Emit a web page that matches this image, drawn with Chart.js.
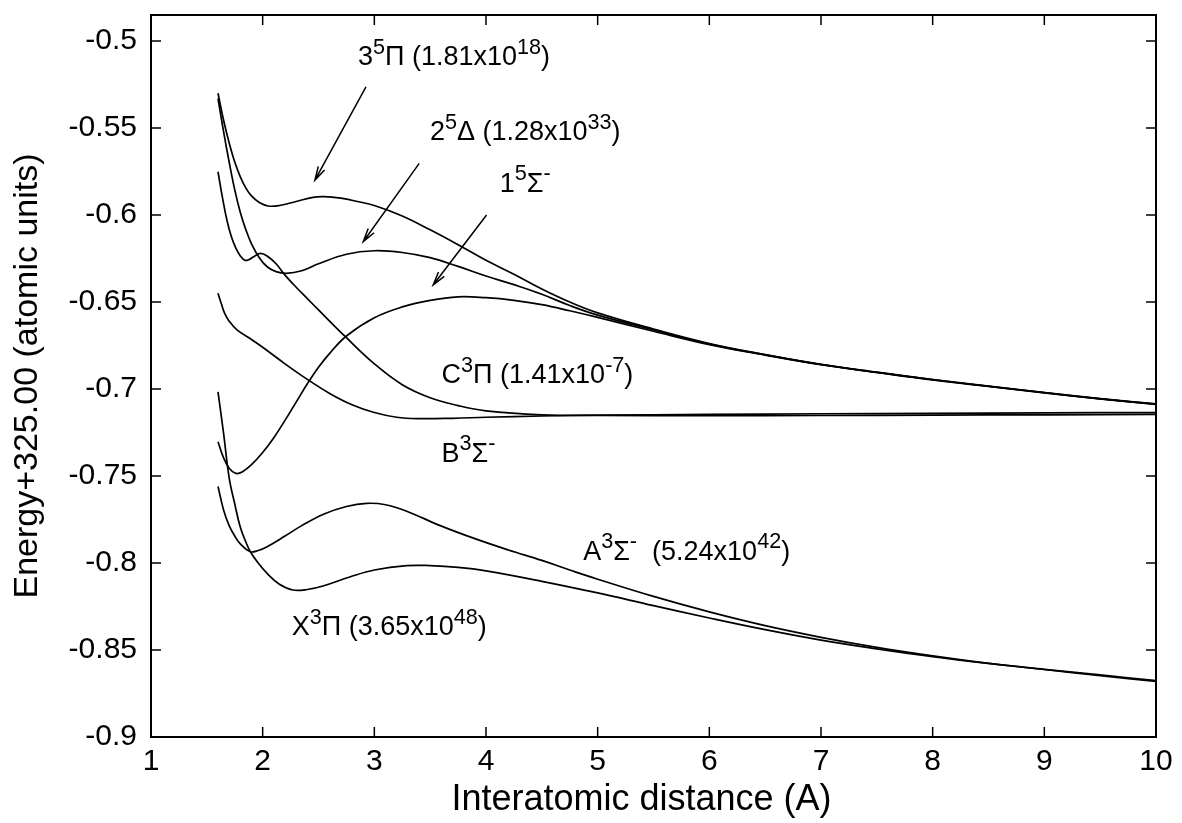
<!DOCTYPE html>
<html>
<head>
<meta charset="utf-8">
<title>Potential energy curves</title>
<script src="https://cdn.jsdelivr.net/npm/chart.js@4.4.1/dist/chart.umd.min.js"></script>
<style>
    html, body { margin: 0; padding: 0; background: #fff; }
    #wrap { width: 1182px; height: 823px; }
</style>
</head>
<body>
<div id="wrap"><canvas id="pec" width="1182" height="823"></canvas></div>
<script>
// axis ticks
const xTicks = [1, 2, 3, 4, 5, 6, 7, 8, 9, 10];
const yTicks = [-0.9, -0.85, -0.8, -0.75, -0.7, -0.65, -0.6, -0.55, -0.5];

// X3Pi
const rX = [1.6, 1.65, 1.7, 1.75, 1.8, 1.85, 1.89, 1.96, 2.04, 2.15, 2.27, 2.4, 2.54, 2.78, 3.0, 3.29, 3.5, 3.75, 4.0, 4.5, 5.0, 5.5, 6.0, 6.5, 7.0, 7.5, 8.0, 8.5, 9.0, 9.5, 10.0];
const eX = [-0.7016, -0.7255, -0.751, -0.766, -0.7795, -0.788, -0.7935, -0.800, -0.806, -0.8122, -0.8155, -0.8152, -0.8132, -0.808, -0.804, -0.8015, -0.8015, -0.8025, -0.8045, -0.8105, -0.8172, -0.8245, -0.8316, -0.8383, -0.8443, -0.8493, -0.8538, -0.8577, -0.8612, -0.8648, -0.868];

// A3Sigma-
const rA = [1.6, 1.65, 1.7, 1.75, 1.8, 1.89, 1.96, 2.04, 2.2, 2.35, 2.55, 2.75, 2.93, 3.1, 3.3, 3.59, 3.9, 4.2, 4.5, 4.75, 5.0, 5.5, 6.0, 6.5, 7.0, 7.5, 8.0, 8.5, 9.0, 9.5, 10.0];
const eA = [-0.756, -0.7695, -0.7785, -0.7845, -0.789, -0.7935, -0.7928, -0.7906, -0.7845, -0.7785, -0.7718, -0.7675, -0.7657, -0.7665, -0.7705, -0.7785, -0.786, -0.7925, -0.7985, -0.804, -0.8093, -0.8192, -0.8281, -0.836, -0.8427, -0.8485, -0.8534, -0.8577, -0.8611, -0.8643, -0.8676];

// 1 5Sigma-
const r15S = [1.6, 1.65, 1.7, 1.76, 1.82, 1.9, 2.0, 2.1, 2.2, 2.3, 2.4, 2.5, 2.6, 2.75, 3.0, 3.25, 3.5, 3.75, 4.0, 4.25, 4.5, 4.75, 5.0, 5.5, 6.0, 6.5, 7.0, 7.5, 8.0, 8.5, 9.0, 9.5, 10.0];
const e15S = [-0.7303, -0.7395, -0.7455, -0.7485, -0.7475, -0.7435, -0.7365, -0.728, -0.718, -0.7075, -0.697, -0.6875, -0.6795, -0.6695, -0.659, -0.6528, -0.649, -0.647, -0.6475, -0.649, -0.6515, -0.655, -0.6588, -0.6668, -0.6745, -0.6805, -0.686, -0.6905, -0.6948, -0.6985, -0.7022, -0.7057, -0.7088];

// 3 5Pi
const r35P = [1.6, 1.65, 1.7, 1.75, 1.8, 1.85, 1.9, 1.97, 2.05, 2.15, 2.3, 2.45, 2.55, 2.7, 2.85, 3.0, 3.25, 3.5, 3.75, 4.0, 4.25, 4.5, 4.75, 5.0, 5.5, 6.0, 6.5, 7.0, 7.5, 8.0, 8.5, 9.0, 9.5, 10.0];
const e35P = [-0.530, -0.5455, -0.5585, -0.5695, -0.578, -0.5845, -0.589, -0.5928, -0.5948, -0.5945, -0.5922, -0.5898, -0.5894, -0.5903, -0.5922, -0.5945, -0.6005, -0.6085, -0.617, -0.626, -0.634, -0.6425, -0.650, -0.6562, -0.6655, -0.6738, -0.6802, -0.6858, -0.6903, -0.6945, -0.6983, -0.702, -0.7055, -0.7085];

// 2 5Delta
const r25D = [1.6, 1.65, 1.7, 1.75, 1.8, 1.85, 1.9, 1.97, 2.04, 2.12, 2.21, 2.35, 2.5, 2.75, 3.0, 3.25, 3.5, 3.75, 4.0, 4.25, 4.5, 4.75, 5.0, 5.5, 6.0, 6.5, 7.0, 7.5, 8.0, 8.5, 9.0, 9.5, 10.0];
const e25D = [-0.533, -0.552, -0.5695, -0.5855, -0.5985, -0.6085, -0.6165, -0.6245, -0.6297, -0.6325, -0.6335, -0.632, -0.628, -0.6225, -0.6205, -0.6215, -0.6245, -0.6295, -0.635, -0.640, -0.6455, -0.652, -0.6575, -0.666, -0.6742, -0.6803, -0.6859, -0.6904, -0.6946, -0.6984, -0.7021, -0.7056, -0.7087];

// B3Sigma-
const rB = [1.6, 1.63, 1.66, 1.7, 1.77, 1.9, 2.0, 2.2, 2.39, 2.6, 2.8, 3.0, 3.2, 3.4, 3.7, 4.0, 4.5, 5.0, 6.0, 7.0, 8.0, 9.0, 10.0];
const eB = [-0.645, -0.651, -0.6565, -0.661, -0.666, -0.6715, -0.676, -0.6855, -0.694, -0.7025, -0.709, -0.7135, -0.7162, -0.717, -0.7168, -0.7162, -0.7155, -0.715, -0.7146, -0.7142, -0.714, -0.7137, -0.7135];

// C3Pi
const rC = [1.6, 1.64, 1.68, 1.72, 1.76, 1.8, 1.84, 1.88, 1.93, 1.98, 2.04, 2.12, 2.2, 2.3, 2.4, 2.5, 2.75, 3.0, 3.25, 3.5, 3.75, 4.0, 4.5, 5.0, 6.0, 7.0, 8.0, 9.0, 10.0];
const eC = [-0.5751, -0.590, -0.603, -0.6125, -0.619, -0.6235, -0.626, -0.6255, -0.6235, -0.622, -0.6235, -0.628, -0.6345, -0.6415, -0.648, -0.6545, -0.6705, -0.6855, -0.6975, -0.705, -0.7095, -0.7125, -0.7148, -0.7152, -0.7153, -0.7152, -0.715, -0.7148, -0.7146];

const curves = [
    [rX, eX], [rA, eA], [r15S, e15S], [r35P, e35P], [r25D, e25D], [rB, eB], [rC, eC]
];

// state labels, anchored at the left end of the baseline (data units)
const stateLabels = [
    { text: '3^{5}Π (1.81x10^{18})', x: 2.853, y: -0.5138 },
    { text: '2^{5}Δ (1.28x10^{33})', x: 3.498, y: -0.5569 },
    { text: '1^{5}Σ^{-}', x: 4.124, y: -0.5866 },
    { text: 'C^{3}Π (1.41x10^{-7})', x: 3.602, y: -0.6967 },
    { text: 'B^{3}Σ^{-}', x: 3.602, y: -0.7418 },
    { text: 'A^{3}Σ^{-}  (5.24x10^{42})', x: 4.87, y: -0.798 },
    { text: 'X^{3}Π (3.65x10^{48})', x: 2.26, y: -0.8414 }
];

const arrows = [
    { from: [2.925, -0.5263], to: [2.468, -0.5799] },
    { from: [3.402, -0.5703], to: [2.901, -0.6153] },
    { from: [4.005, -0.600], to: [3.527, -0.6402] }
];

const FONT = '"Liberation Sans", Arial, Helvetica, sans-serif';
const TICK_LEN = 10;
const X_TITLE = 'Interatomic distance (A)';

function drawRich(ctx, text, x, y, size) {
    const parts = text.split(/(\^\{[^}]*\})/).filter(Boolean);
    let cx = x;
    parts.forEach(p => {
        const sup = p.startsWith('^{');
        const s = sup ? p.slice(2, -1) : p;
        ctx.font = `${sup ? size * 0.8 : size}px ${FONT}`;
        ctx.fillText(s, cx, sup ? y - size * 0.42 : y);
        cx += ctx.measureText(s).width;
    });
}

const framePlugin = {
    id: 'gnuframe',
    afterDatasetsDraw(chart) {
        const { ctx, chartArea: a, scales: { x, y } } = chart;
        ctx.save();
        ctx.strokeStyle = '#000';
        ctx.lineWidth = 1.5;
        ctx.beginPath();
        xTicks.forEach(v => {
            const px = x.getPixelForValue(v);
            ctx.moveTo(px, a.bottom); ctx.lineTo(px, a.bottom - TICK_LEN);
            ctx.moveTo(px, a.top); ctx.lineTo(px, a.top + TICK_LEN);
        });
        yTicks.forEach(v => {
            const py = y.getPixelForValue(v);
            ctx.moveTo(a.left, py); ctx.lineTo(a.left + TICK_LEN, py);
            ctx.moveTo(a.right, py); ctx.lineTo(a.right - TICK_LEN, py);
        });
        ctx.stroke();
        ctx.lineWidth = 2;
        ctx.strokeRect(a.left, a.top, a.width, a.height);

        // arrows
        ctx.lineWidth = 1.5;
        arrows.forEach(ar => {
            const x0 = x.getPixelForValue(ar.from[0]), y0 = y.getPixelForValue(ar.from[1]);
            const x1 = x.getPixelForValue(ar.to[0]), y1 = y.getPixelForValue(ar.to[1]);
            const ang = Math.atan2(y1 - y0, x1 - x0);
            const head = 14, spread = 0.26;
            ctx.beginPath();
            ctx.moveTo(x0, y0); ctx.lineTo(x1, y1);
            ctx.moveTo(x1 - head * Math.cos(ang - spread), y1 - head * Math.sin(ang - spread));
            ctx.lineTo(x1, y1);
            ctx.lineTo(x1 - head * Math.cos(ang + spread), y1 - head * Math.sin(ang + spread));
            ctx.stroke();
        });

        // labels
        ctx.fillStyle = '#000';
        ctx.textAlign = 'left';
        ctx.textBaseline = 'alphabetic';
        stateLabels.forEach(l => {
            drawRich(ctx, l.text, x.getPixelForValue(l.x), y.getPixelForValue(l.y), 27);
        });

        // x axis title (gnuplot puts it a little left of centre)
        ctx.font = `36px ${FONT}`;
        ctx.textAlign = 'center';
        ctx.textBaseline = 'middle';
        ctx.fillText(X_TITLE, (a.left + a.right) / 2 - 12, 800);
        ctx.restore();
    }
};

new Chart(document.getElementById('pec'), {
    type: 'line',
    data: {
        datasets: curves.map(([r, e]) => ({
            data: r.map((v, i) => ({ x: v, y: e[i] })),
            borderColor: '#000',
            borderWidth: 1.7,
            pointRadius: 0,
            fill: false,
            tension: 0.4
        }))
    },
    options: {
        responsive: false,
        devicePixelRatio: 1,
        animation: false,
        layout: { padding: { top: 15, right: 26, left: 0, bottom: 0 } },
        plugins: {
            legend: { display: false },
            tooltip: { enabled: false }
        },
        scales: {
            x: {
                type: 'linear',
                min: 1,
                max: 10,
                afterBuildTicks: s => { s.ticks = xTicks.map(v => ({ value: v })); },
                afterFit: s => { s.height = 86; s.paddingLeft = 0; s.paddingRight = 0; },
                grid: { display: false, drawTicks: false },
                border: { display: false },
                ticks: {
                    color: '#000',
                    padding: 7,
                    font: { family: FONT, size: 30 },
                    maxRotation: 0,
                    callback: v => String(v)
                },
                title: { display: false }
            },
            y: {
                type: 'linear',
                min: -0.9,
                max: -0.485,
                afterBuildTicks: s => { s.ticks = yTicks.map(v => ({ value: v })); },
                afterFit: s => { s.width = 151; s.paddingTop = 0; s.paddingBottom = 0; },
                grid: { display: false, drawTicks: false },
                border: { display: false },
                ticks: {
                    color: '#000',
                    padding: 14,
                    font: { family: FONT, size: 30 },
                    callback: v => String(+v.toFixed(2))
                },
                title: {
                    display: true,
                    text: 'Energy+325.00 (atomic units)',
                    color: '#000',
                    font: { family: FONT, size: 34 },
                    padding: { top: 7, bottom: 0 }
                }
            }
        }
    },
    plugins: [framePlugin]
});
</script>
</body>
</html>
